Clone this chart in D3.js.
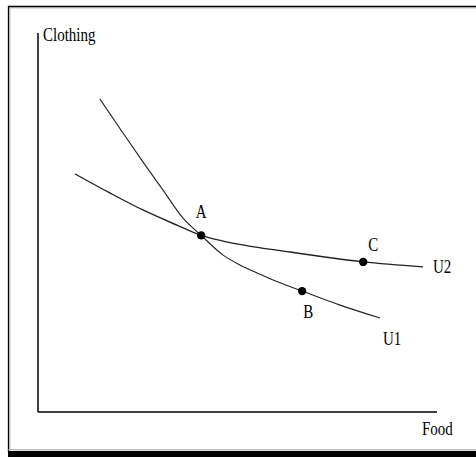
<!DOCTYPE html>
<html><head><meta charset="utf-8">
<script src="https://cdn.jsdelivr.net/npm/d3@7/dist/d3.min.js"></script>
<style>body{margin:0;background:#fff}svg{display:block}</style>
</head><body>
<script>
// Data (Food on x, Clothing on y, arbitrary units 0..100)
const u1Food     = [15.5, 21.3, 26.3, 31.3, 36.3, 40.9, 46.4, 50.6, 54.9, 58.9, 66.2, 75.7, 85.7];
const u1Clothing = [82.6, 73.6, 66.0, 58.6, 51.2, 46.6, 41.4, 38.8, 36.7, 34.8, 31.9, 28.2, 24.8];
const u2Food     = [9.3, 18.0, 26.3, 34.8, 40.9, 46.4, 63.2, 81.5, 96.5];
const u2Clothing = [62.8, 57.8, 53.3, 49.3, 46.6, 45.1, 42.2, 39.6, 38.3];
const pointNames = ["A", "B", "C"];
const pointFood = [40.9, 66.2, 81.5];
const pointClothing = [46.6, 31.9, 39.6];
const curveNames = ["U1", "U2"];
const axisTitles = ["Food", "Clothing"];

const W = 476, H = 457;
const svg = d3.select("body").append("svg").attr("width", W).attr("height", H);

// frame
svg.append("line").attr("x1", 8).attr("x2", W).attr("y1", 6.5).attr("y2", 6.5).attr("stroke", "#000").attr("stroke-width", 1.3);
svg.append("line").attr("x1", 8).attr("x2", W).attr("y1", 7.8).attr("y2", 7.8).attr("stroke", "#999").attr("stroke-width", 1);
svg.append("line").attr("x1", 8.5).attr("x2", 8.5).attr("y1", 6).attr("y2", 452).attr("stroke", "#000").attr("stroke-width", 1.3);
svg.append("line").attr("x1", 9.8).attr("x2", 9.8).attr("y1", 8).attr("y2", 450).attr("stroke", "#aaa").attr("stroke-width", 1);
svg.append("line").attr("x1", 8).attr("x2", W).attr("y1", 449.8).attr("y2", 449.8).attr("stroke", "#999").attr("stroke-width", 1);
svg.append("rect").attr("x", 8).attr("y", 451).attr("width", W - 8).attr("height", 6).attr("fill", "#000");

const x = d3.scaleLinear().domain([0, 100]).range([38, 437]);
const y = d3.scaleLinear().domain([0, 100]).range([412, 33]);

// axes
const g = svg.append("g");
g.append("line").attr("x1", x(0)).attr("x2", x(0)).attr("y1", y(100)).attr("y2", y(0)).attr("stroke", "#000").attr("stroke-width", 1.5);
g.append("line").attr("x1", x(0)).attr("x2", x(100)).attr("y1", y(0)).attr("y2", y(0)).attr("stroke", "#000").attr("stroke-width", 1.5);

function label(txt, px, py, anchor) {
  svg.append("text")
    .attr("transform", `translate(${px},${py}) scale(1,1.3)`)
    .attr("text-anchor", anchor || "start")
    .attr("font-family", "'Liberation Serif', 'Times New Roman', serif")
    .attr("font-size", 15)
    .attr("fill", "#000")
    .text(txt);
}

label(axisTitles[1], x(0) + 5, y(100) + 8);
label(axisTitles[0], x(100) - 15, 435);

const line = d3.line().x(d => x(d[0])).y(d => y(d[1])).curve(d3.curveMonotoneX);
const u1 = u1Food.map((f, i) => [f, u1Clothing[i]]);
const u2 = u2Food.map((f, i) => [f, u2Clothing[i]]);

svg.append("path").attr("d", line(u1)).attr("fill", "none").attr("stroke", "#222").attr("stroke-width", 1.1);
svg.append("path").attr("d", line(u2)).attr("fill", "none").attr("stroke", "#222").attr("stroke-width", 1.4);

label(curveNames[0], x(u1Food[u1Food.length - 1]) + 3, y(u1Clothing[u1Clothing.length - 1]) + 27);
label(curveNames[1], x(u2Food[u2Food.length - 1]) + 10, y(u2Clothing[u2Clothing.length - 1]) + 6);

pointNames.forEach((n, i) => {
  svg.append("circle").attr("cx", x(pointFood[i])).attr("cy", y(pointClothing[i])).attr("r", 4.2).attr("fill", "#000");
});
const labelOffsets = {A: [0, -17], B: [6, 27], C: [10, -11]};
pointNames.forEach((n, i) => {
  const o = labelOffsets[n];
  label(n, x(pointFood[i]) + o[0], y(pointClothing[i]) + o[1], "middle");
});
</script>
</body></html>
